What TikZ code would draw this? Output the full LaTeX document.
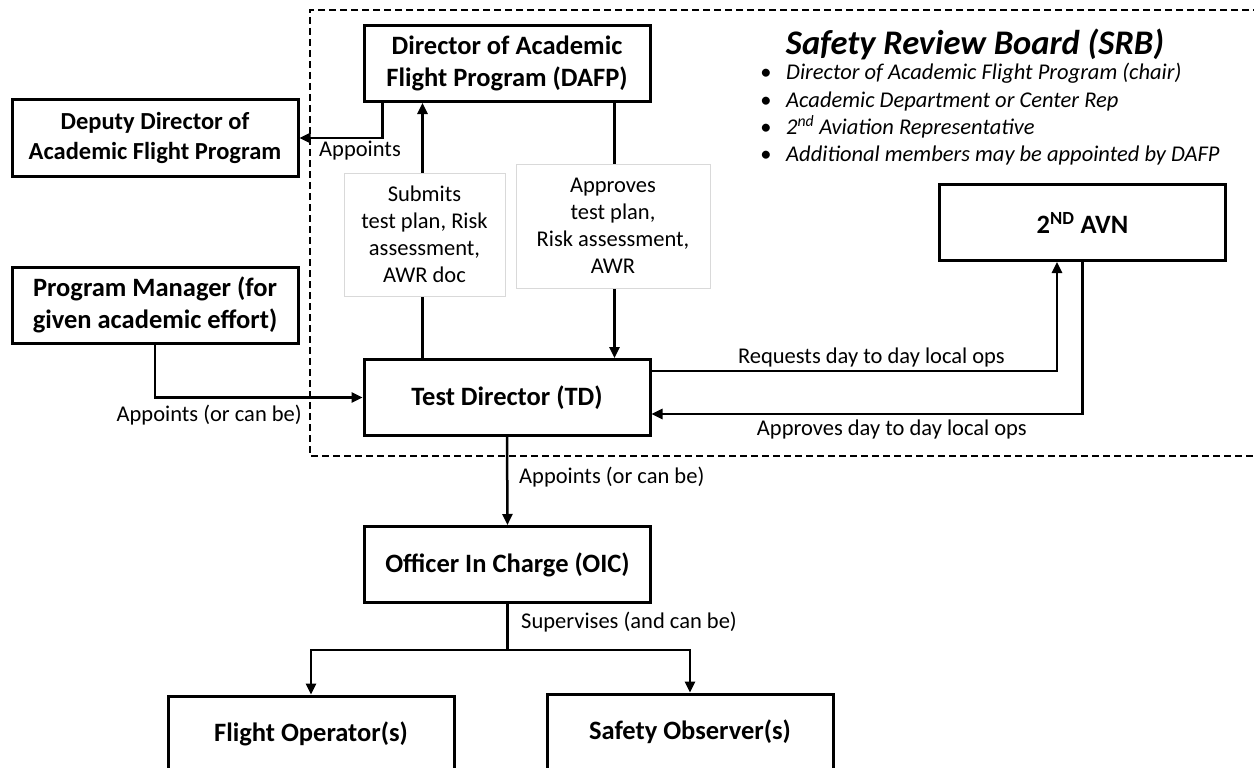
\documentclass[tikz,border=0pt]{standalone}
\usepackage{fontspec}
\setmainfont{Carlito}
\usetikzlibrary{positioning,arrows.meta}

\begin{document}
\begin{tikzpicture}[x=1pt,y=-1pt,
    unit/.style={draw,line width=3pt,minimum width=286pt,minimum height=76pt,align=center,font=\fontsize{26.5}{32}\selectfont\bfseries},
    note/.style={draw=black!15,line width=1pt,fill=white,align=center,inner sep=0pt,font=\fontsize{22.5}{27}\selectfont},
    lbl/.style={font=\fontsize{22.5}{27}\selectfont,inner sep=0pt},
    member/.style={anchor=base west,inner sep=0pt,font=\fontsize{22.5}{27}\selectfont\itshape},
    link/.style={line width=2.5pt,-{Triangle[length=11pt,width=10pt]}},
    srbline/.style={line width=2pt,dash pattern=on 7pt off 4pt}]
    \useasboundingbox (0,0) rectangle (1254,768);
    % safety review board area
    \draw[srbline] (1260,10) -| (310,456) -- (1260,456);
    \node[font=\fontsize{34.5}{41}\selectfont\bfseries\itshape] (srb) at (975,44) {Safety Review Board (SRB)};
    \foreach \txt [count=\i] in {Director of Academic Flight Program (chair),
        Academic Department or Center Rep,
        2\textsuperscript{nd} Aviation Representative,
        Additional members may be appointed by DAFP}
        \node[member] (member\i) at (786,{53+27*\i}) {\llap{\textbullet\hspace{15pt}}\txt};
    % boxes
    \node[unit] (dafp) at (507,63.5) {Director of Academic\\Flight Program (DAFP)};
    \node[unit,font=\fontsize{24.5}{30}\selectfont\bfseries] (deputy) at (155,138) {Deputy Director of\\Academic Flight Program};
    \node[unit] (pm) at (155,305) {Program Manager (for\\given academic effort)};
    \node[unit] (td) at (507,397.5) {Test Director (TD)};
    \node[unit] (avn) at (1082.5,222.5) {2\textsuperscript{ND} AVN};
    \node[unit] (oic) at (507.5,564.5) {Officer In Charge (OIC)};
    \node[unit] (flightop) at (311,734) {Flight Operator(s)};
    \node[unit] (safetyobs) at (690,732) {Safety Observer(s)};
    % connectors
    \draw[link] ([xshift=20pt]dafp.south west) |- (deputy.east);
    \node[lbl,anchor=west] (appdep) at (319,151) {Appoints};
    \draw[link] ([xshift=60pt]td.north west) -- ([xshift=60pt]dafp.south west);
    \draw[link] ([xshift=-37pt]dafp.south east) -- ([xshift=-37pt]td.north east);
    \draw[link] (pm.south) |- (td.west);
    \node[lbl,anchor=east] (apppm) at (302,415) {Appoints (or can be)};
    \draw[link] ([yshift=-13pt]td.north east) -| ([xshift=-25.5pt]avn.south);
    \node[lbl,anchor=east] (req) at (1005,357) {Requests day to day local ops};
    \draw[link] (avn.south) |- ([yshift=-56pt]td.north east);
    \node[lbl,anchor=east] (appops) at (1027,429) {Approves day to day local ops};
    \draw[link] (td.south) -- (oic.north);
    \node[lbl,anchor=west] (apptd) at (519,477) {Appoints (or can be)};
    \draw[link] (oic.south) -- ++(0,46) -| (flightop.north);
    \draw[link] (oic.south) -- ++(0,46) -| (safetyobs.north);
    \node[lbl,anchor=west] (sup) at (521,622) {Supervises (and can be)};
    % label boxes over the lines
    \node[note,minimum width=161pt,minimum height=123pt] (submit) at (424.5,234.5) {Submits\\test plan, Risk\\assessment,\\AWR doc};
    \node[note,minimum width=194pt,minimum height=124pt] (approve) at (613,226) {Approves\\test plan,\\Risk assessment,\\AWR};
\end{tikzpicture}
\end{document}
